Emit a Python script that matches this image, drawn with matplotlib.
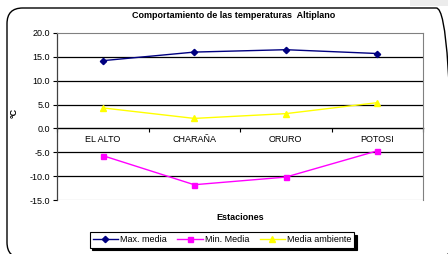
import matplotlib
matplotlib.use("Agg")
import matplotlib.pyplot as plt
from matplotlib.patches import FancyBboxPatch, Rectangle

plt.rcParams['font.family'] = ['Liberation Sans', 'DejaVu Sans']

estaciones = ["EL ALTO", "CHARAÑA", "ORURO", "POTOSI"]
max_media = [14.2, 16.0, 16.5, 15.7]
min_media = [-5.7, -11.8, -10.2, -4.7]
media_ambiente = [4.3, 2.1, 3.1, 5.4]
yticks = [20, 15, 10, 5, 0, -5, -10, -15]

fig = plt.figure(figsize=(4.48, 2.54), dpi=100)
fig.patch.set_facecolor('white')

# faint page-shadow band at top right
fig.patches.append(Rectangle((410/448, 1-6/254), 38/448, 6/254, transform=fig.transFigure,
                             facecolor='#ececec', edgecolor='none'))

# outer rounded frame (cropped at right and bottom)
frame = FancyBboxPatch((7/448, -4/254), 445/448, 254/254 - 8/254 + 4/254,
                       boxstyle="round,pad=0,rounding_size=0.035",
                       transform=fig.transFigure, fill=False,
                       edgecolor='black', linewidth=1.0, mutation_aspect=448/254)
fig.patches.append(frame)

ax = fig.add_axes([57/448, 1-200/254, 366/448, 167/254])
x = list(range(len(estaciones)))
ax.plot(x, max_media, color='#000080', marker='D', markersize=3.2, linewidth=1.0, label='Max. media')
ax.plot(x, min_media, color='#FF00FF', marker='s', markersize=3.6, linewidth=1.0, label='Min. Media')
ax.plot(x, media_ambiente, color='#FFFF00', marker='^', markersize=4.2, linewidth=1.0, label='Media ambiente')

ax.set_xlim(-0.5, len(estaciones)-0.5)
ax.set_ylim(-15, 20)
ax.set_yticks(yticks)
ax.set_yticklabels([f"{v:.1f}" for v in yticks], fontsize=6.5)
for v in yticks:
    if v not in (0, 20, -15):
        ax.axhline(v, color='black', linewidth=0.9, zorder=0)

for s in ['top', 'right']:
    ax.spines[s].set_color('#808080')
    ax.spines[s].set_linewidth(0.8)
ax.spines['left'].set_color('#404040')
ax.spines['left'].set_linewidth(0.9)
ax.spines['bottom'].set_position(('data', 0))
ax.spines['bottom'].set_color('black')
ax.spines['bottom'].set_linewidth(1.0)
ax.spines['bottom'].set_zorder(0.5)

ax.axhline(-15, color='#808080', linewidth=0.8, zorder=0)

ax.set_xticks([i - 0.5 for i in range(len(estaciones)+1)])
ax.set_xticklabels([])
ax.set_xticks(x, minor=True)
ax.set_xticklabels(estaciones, minor=True, fontsize=6.5)
ax.tick_params(axis='x', which='major', length=3, direction='out', width=0.8)
ax.tick_params(axis='x', which='minor', length=0, pad=5)
ax.tick_params(axis='y', length=3, width=0.8, pad=2)

fig.text(0.5 + 10/448, 1-15/254, "Comportamiento de las temperaturas  Altiplano",
         ha='center', va='center', fontsize=6.5, fontweight='bold')
fig.text(14/448, 1-113/254, "°C", rotation=90, ha='center', va='center',
         fontsize=6.5, fontweight='bold')
fig.text(240/448, 1-217/254, "Estaciones", ha='center', va='center',
         fontsize=6.5, fontweight='bold')

leg = fig.legend(loc='center', bbox_to_anchor=(222/448, 1-240/254), ncol=3,
                 fontsize=6.5, frameon=True, fancybox=False,
                 shadow={'color': 'black', 'alpha': 1.0},
                 handlelength=2.8, columnspacing=1.2, handletextpad=0.2,
                 borderpad=0.35, borderaxespad=0)
leg.get_frame().set_edgecolor('black')
leg.get_frame().set_linewidth(0.8)

fig.savefig("out.png", dpi=100)
